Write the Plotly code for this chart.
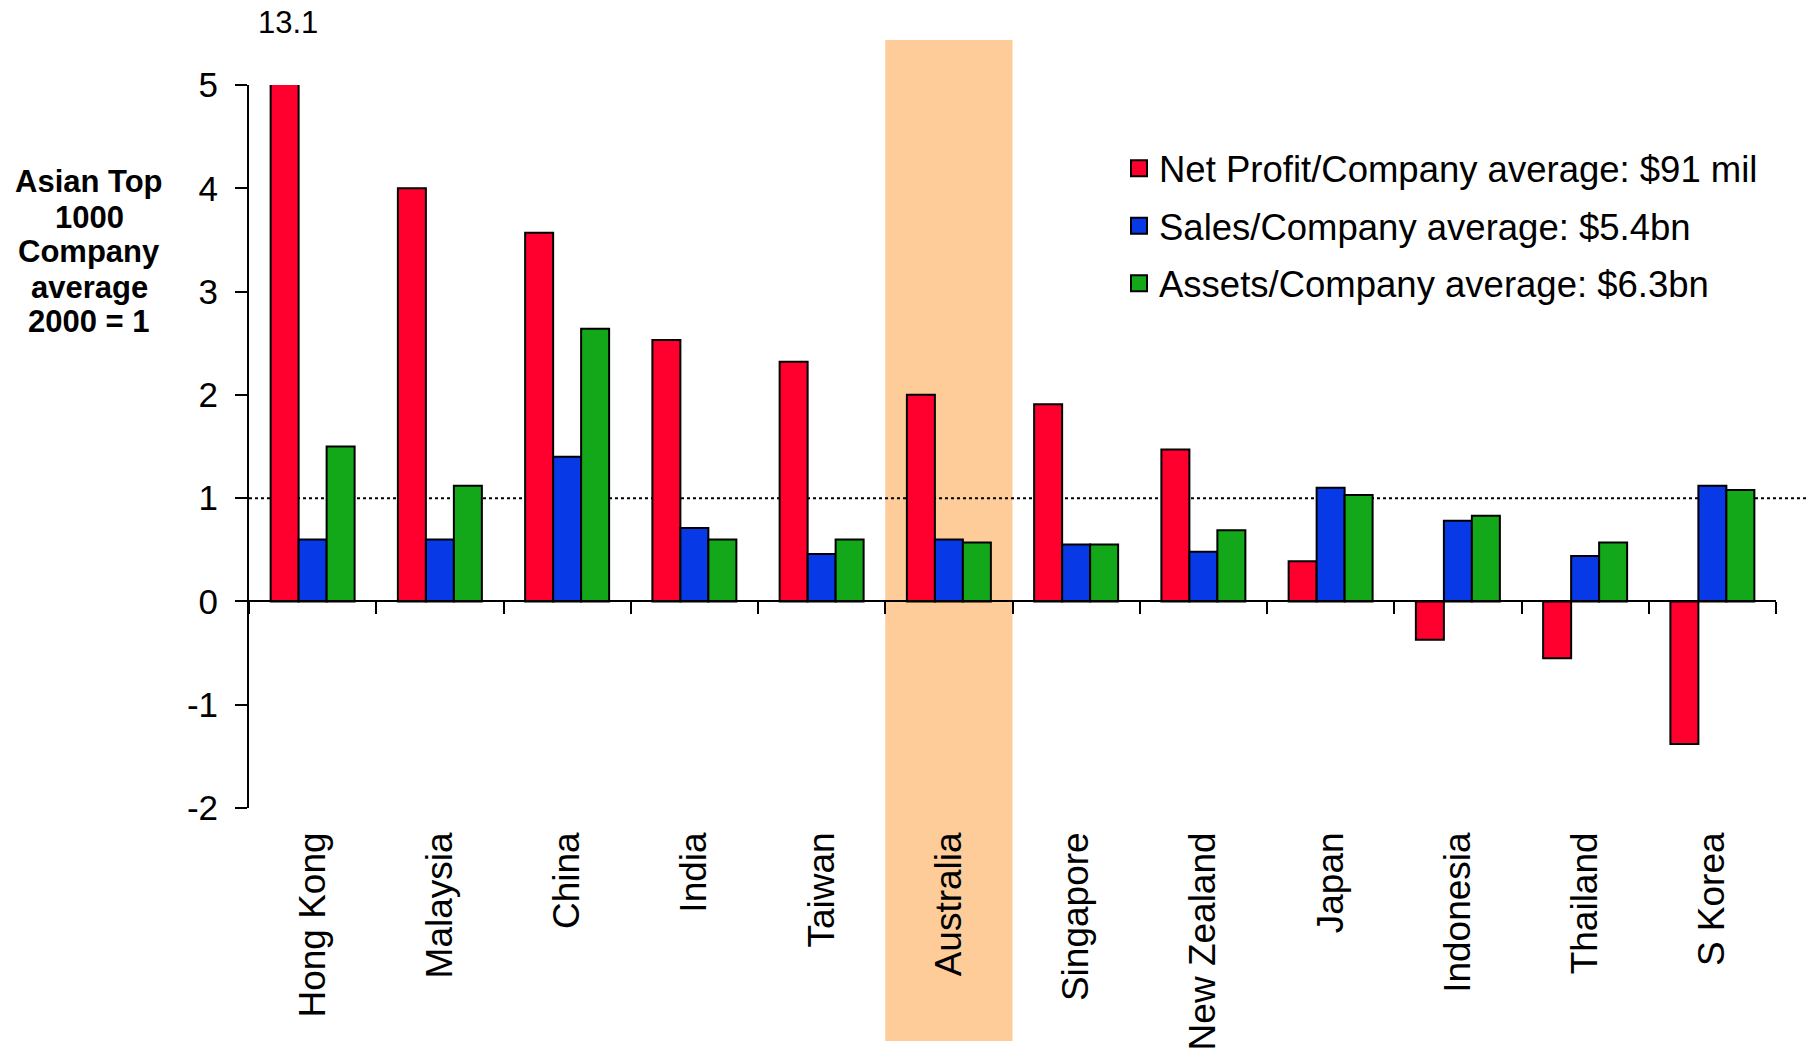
import plotly.graph_objects as go

# ---------------- data ----------------
countries = ["Hong Kong", "Malaysia", "China", "India", "Taiwan", "Australia",
             "Singapore", "New Zealand", "Japan", "Indonesia", "Thailand", "S Korea"]
net_profit = [13.1, 4.00, 3.57, 2.53, 2.32, 2.00, 1.91, 1.47, 0.39, -0.37, -0.55, -1.38]
sales = [0.60, 0.60, 1.40, 0.71, 0.46, 0.60, 0.55, 0.48, 1.10, 0.78, 0.44, 1.12]
assets = [1.50, 1.12, 2.64, 0.60, 0.60, 0.57, 0.55, 0.69, 1.03, 0.83, 0.57, 1.08]
series_names = ["Net Profit/Company average: $91 mil",
                "Sales/Company average: $5.4bn",
                "Assets/Company average: $6.3bn"]
y_ticks = [-2, -1, 0, 1, 2, 3, 4, 5]
y_tick_text = ["-2", "-1", "0", "1", "2", "3", "4", "5"]
highlight = "Australia"
reference_level = 1
y_title_lines = ["Asian Top", "1000", "Company", "average", "2000 = 1"]

# ---------------- style ----------------
colors = ["#FF002E", "#0839E6", "#12A81A"]
FONT = "Liberation Sans, Arial, sans-serif"
W, H = 1809, 1055
ML, MR, MT, MB = 249, 33, 85, 247
YMIN, YMAX = -2, 5
BARGAP = 0.34

plot_w = W - ML - MR
plot_h = H - MT - MB
cat_w = plot_w / len(countries)
bar_w = cat_w * (1 - BARGAP) / 3


def py(pixel_y):
    """pixel row -> paper y"""
    return (H - MB - pixel_y) / plot_h


def px(pixel_x):
    return (pixel_x - ML) / plot_w


fig = go.Figure()
for name, vals, col in zip(series_names, [net_profit, sales, assets], colors):
    fig.add_trace(go.Bar(
        x=countries, y=vals, name=name, showlegend=False,
        marker=dict(color=col, line=dict(color="black", width=2)),
    ))
    # legend entry (larger square symbol), attached to the tick axis
    fig.add_trace(go.Scatter(
        x=[None], y=[None], xaxis="x2", mode="markers", name=name,
        legendgroup=name,
        marker=dict(symbol="square", size=16, color=col,
                    line=dict(color="black", width=2)),
    ))

hi = countries.index(highlight)
shapes = [
    # highlight band for Australia (extends behind labels)
    dict(type="rect", xref="x", yref="paper", x0=hi - 0.5, x1=hi + 0.5,
         y0=py(1041), y1=py(40), fillcolor="#FECC99", line=dict(width=0),
         layer="below"),
    # dotted reference line at 1
    dict(type="line", xref="paper", yref="y", x0=0, x1=px(W), y0=reference_level,
         y1=reference_level, line=dict(color="black", width=2, dash="dot"),
         layer="below"),
]

annotations = [
    dict(x=countries[0], y=YMAX, xref="x", yref="y", xshift=-bar_w + 3, yshift=63,
         text=f"{net_profit[0]}", showarrow=False,
         font=dict(family=FONT, size=31, color="black")),
]
title_rows = [182, 217, 252, 287, 321]
for line, row in zip(y_title_lines, title_rows):
    annotations.append(dict(
        x=px(89), y=py(row), xref="paper", yref="paper",
        text=f"<b>{line}</b>", showarrow=False, align="center",
        xanchor="center", yanchor="middle",
        font=dict(family=FONT, size=31, color="black")))

fig.update_layout(
    width=W, height=H,
    margin=dict(l=ML, r=MR, t=MT, b=MB, pad=0, autoexpand=False),
    paper_bgcolor="white", plot_bgcolor="rgba(0,0,0,0)",
    barmode="group", bargap=BARGAP, bargroupgap=0,
    font=dict(family=FONT, color="black"),
    shapes=shapes, annotations=annotations,
    showlegend=True,
    legend=dict(x=px(1119), y=py(138), xanchor="left", yanchor="top",
                font=dict(family=FONT, size=36.5, color="black"),
                bgcolor="rgba(0,0,0,0)", tracegroupgap=7),
    xaxis=dict(type="category", categoryorder="array", categoryarray=countries,
               range=[-0.5, len(countries) - 0.5], showline=False, ticks="",
               showgrid=False, zeroline=False, tickangle=-90, automargin=False,
               tickfont=dict(family=FONT, size=37, color="black"),
               ticklabelstandoff=16),
    xaxis2=dict(overlaying="x", anchor="free",
                position=(0 - YMIN) / (YMAX - YMIN), automargin=False,
                range=[-0.5, len(countries) - 0.5], tick0=-0.5, dtick=1,
                ticks="outside", ticklen=12, tickwidth=2, tickcolor="black",
                showticklabels=False, showline=True, linecolor="black",
                linewidth=2, showgrid=False, zeroline=False),
    yaxis=dict(range=[YMIN, YMAX], tickvals=y_ticks, ticktext=y_tick_text,
               ticks="outside", automargin=False,
               ticklen=12, tickwidth=2, tickcolor="black", showline=True,
               linecolor="black", linewidth=2, showgrid=False, zeroline=False,
               tickfont=dict(family=FONT, size=35, color="black"),
               ticklabelstandoff=10),
)

fig.write_html("out.html")
